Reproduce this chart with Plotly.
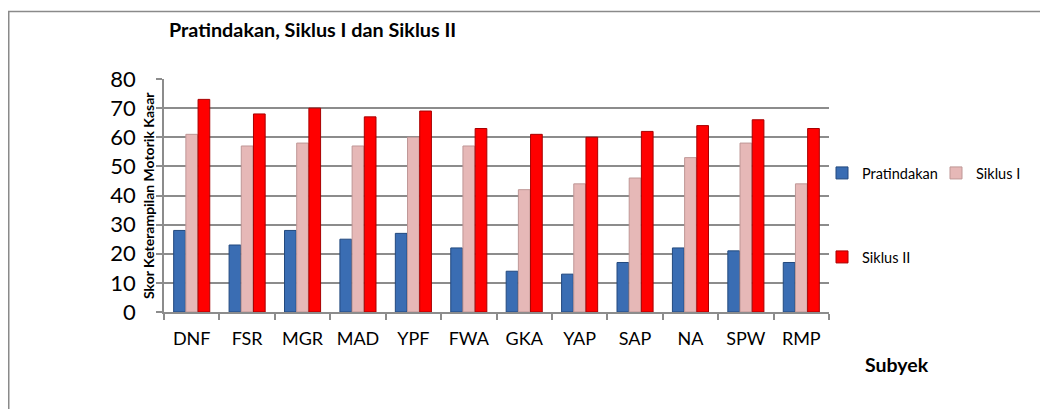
import plotly.graph_objects as go

subjects = ["DNF", "FSR", "MGR", "MAD", "YPF", "FWA", "GKA", "YAP", "SAP", "NA", "SPW", "RMP"]
pratindakan = [28, 23, 28, 25, 27, 22, 14, 13, 17, 22, 21, 17]
siklus_1 = [61, 57, 58, 57, 60, 57, 42, 44, 46, 53, 58, 44]
siklus_2 = [73, 68, 70, 67, 69, 63, 61, 60, 62, 64, 66, 63]
y_ticks = [0, 10, 20, 30, 40, 50, 60, 70, 80]

# page body has an 8px default margin; the figure is sized/placed to compensate
OFF = 8
W, H = 1048 - OFF, 409 - OFF
# plot area in screen pixels
SL, SR, ST, SB = 164, 829, 79, 312
L, R, T, B = SL - OFF, SR - OFF, ST - OFF, SB - OFF
pw, ph = R - L, B - T


def px(x):  # screen x -> paper
    return (x - OFF - L) / pw


def py(y):  # screen y -> paper
    return (B - (y - OFF)) / ph


FONT = "Lato, Carlito, Calibri, sans-serif"
LEG_FONT = dict(size=14.5, family=FONT, color="black")

fig = go.Figure()
fig.add_trace(go.Bar(x=subjects, y=pratindakan, name="Pratindakan",
                     marker=dict(color="#3A6DB3", line=dict(color="#23497E", width=1)),
                     legend="legend"))
fig.add_trace(go.Bar(x=subjects, y=siklus_1, name="Siklus I",
                     marker=dict(color="#E6B8B7", line=dict(color="#BF9796", width=1)),
                     legend="legend2"))
fig.add_trace(go.Bar(x=subjects, y=siklus_2, name="Siklus II",
                     marker=dict(color="#FF0000", line=dict(color="#A80000", width=1)),
                     legend="legend3"))


def leg(x_screen, y_screen):
    return dict(orientation="h", x=px(x_screen), xanchor="left", y=py(y_screen), yanchor="middle",
                font=LEG_FONT, itemwidth=30, bgcolor="rgba(0,0,0,0)", borderwidth=0)


fig.update_layout(
    width=W, height=H,
    margin=dict(l=L, r=W - R, t=T, b=H - B, pad=0),
    paper_bgcolor="white", plot_bgcolor="white",
    font=dict(family=FONT, color="black"),
    barmode="group", bargap=0.34, bargroupgap=0.04,
    showlegend=True,
    legend=leg(822, 173),
    legend2=leg(936, 173),
    legend3=leg(822, 257),
    xaxis=dict(showline=True, linecolor="#8c8c8c", linewidth=1.5,
               ticks="outside", tickson="boundaries", ticklen=6, tickcolor="#8c8c8c", tickwidth=1.5,
               tickfont=dict(size=18, family=FONT), ticklabelstandoff=10,
               showgrid=False, zeroline=False),
    yaxis=dict(range=[0, 80], tickvals=y_ticks, showline=True, linecolor="#8c8c8c", linewidth=1.5,
               ticks="outside", ticklen=6, tickcolor="#8c8c8c", tickwidth=1.5,
               tickfont=dict(size=22, family=FONT), ticklabelstandoff=16,
               showgrid=True, gridcolor="#8c8c8c", gridwidth=1.5, zeroline=False),
)

fig.add_annotation(text="<b>Pratindakan, Siklus I dan Siklus II</b>", xref="paper", yref="paper",
                   x=px(167), y=py(29), xanchor="left", yanchor="middle", showarrow=False,
                   font=dict(size=19.8, family=FONT))
fig.add_annotation(text="<b>Skor Keterampilan Motorik Kasar</b>", xref="paper", yref="paper",
                   x=px(148), y=py(196), xanchor="center", yanchor="middle", showarrow=False,
                   textangle=-90, font=dict(size=14, family=FONT))
fig.add_annotation(text="<b>Subyek</b>", xref="paper", yref="paper",
                   x=px(897), y=py(364), xanchor="center", yanchor="middle", showarrow=False,
                   font=dict(size=19.5, family=FONT))

fig.add_shape(type="rect", xref="paper", yref="paper",
              x0=px(OFF + 0.75), x1=px(1100), y0=py(11.5), y1=py(460),
              line=dict(color="#8a8a8a", width=1.5), fillcolor="rgba(0,0,0,0)", layer="below")

fig.write_html("out.html")
